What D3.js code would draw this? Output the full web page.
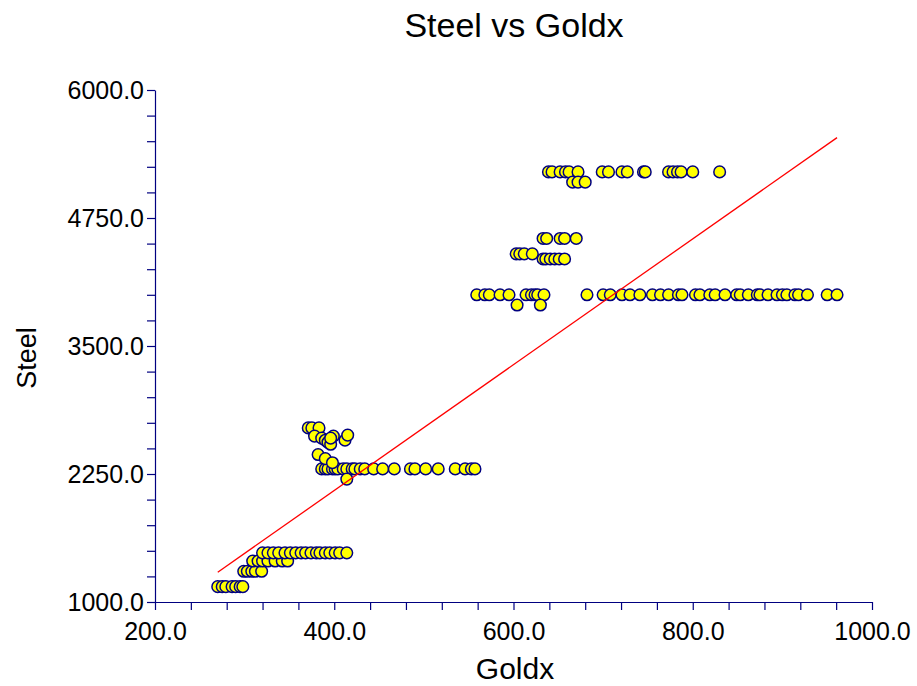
<!DOCTYPE html>
<html><head><meta charset="utf-8">
<script src="https://cdn.jsdelivr.net/npm/d3@7"></script>
<style>body{margin:0;background:#fff}svg{display:block}text{font-family:"Liberation Sans",Arial,sans-serif}</style>
</head><body>
<script>
// ---- data ----
const chartTitle = "Steel vs Goldx";
const xTitle = "Goldx";
const yTitle = "Steel";
const xTickValues = [200, 400, 600, 800, 1000];
const yTickValues = [1000, 2250, 3500, 4750, 6000];
const goldx = [
  270,275,279,286,290,295,298,
  299,303,308,312,319,
  309,315,320,326,334,342,348,
  320,326,332,338,345,351,357,363,368,374,380,384,390,395,401,406,414,
  386,390,393,398,401,404,410,414,420,423,429,434,444,454,467,485,490,502,516,535,546,553,557,
  414,
  371,375,383,378,386,390,393,396,399,396,412,415,382,390,398,
  559,568,573,585,595,614,620,624,627,634,682,700,
  604,630,
  633,637,652,657,670,
  603,607,612,621,
  633,636,641,646,651,657,
  708,721,730,741,755,764,773,784,788,803,808,819,825,836,849,853,862,872,875,884,894,900,905,914,918,928,950,961,
  639,643,652,658,662,672,699,706,721,727,745,747,773,778,783,787,800,830,
  666,672,680
];
const steel = [
  1150,1150,1150,1150,1150,1150,1150,
  1300,1300,1300,1300,1300,
  1400,1400,1400,1400,1400,1400,1400,
  1480,1480,1480,1480,1480,1480,1480,1480,1480,1480,1480,1480,1480,1480,1480,1480,1480,
  2300,2300,2300,2300,2300,2300,2300,2300,2300,2300,2300,2300,2300,2300,2300,2300,2300,2300,2300,2300,2300,2300,2300,
  2200,
  2700,2700,2700,2620,2600,2580,2560,2540,2620,2600,2580,2630,2440,2400,2360,
  4000,4000,4000,4000,4000,4000,4000,4000,4000,4000,4000,4000,
  3900,3900,
  4550,4550,4550,4550,4550,
  4400,4400,4400,4400,
  4350,4350,4350,4350,4350,4350,
  4000,4000,4000,4000,4000,4000,4000,4000,4000,4000,4000,4000,4000,4000,4000,4000,4000,4000,4000,4000,4000,4000,4000,4000,4000,4000,4000,4000,
  5200,5200,5200,5200,5200,5200,5200,5200,5200,5200,5200,5200,5200,5200,5200,5200,5200,5200,
  5100,5100,5100
];
const fitSlope = 6.142;
const fitIntercept = -367.6;

// ---- layout ----
const W = 917, H = 686;
const m = {left:155, right:45, top:90, bottom:84};
const axisColor = "#000080";
const font = '"Liberation Sans",Arial,sans-serif';

const svg = d3.select("body").append("svg").attr("width", W).attr("height", H);
const x = d3.scaleLinear().domain([200, 1000]).range([m.left, W - m.right]);
const y = d3.scaleLinear().domain([1000, 6000]).range([H - m.bottom, m.top]);

// axes
const xMinor = d3.range(200, 1000.1, 40);
const yMinor = d3.range(1000, 6000.1, 250);
const fmt = d3.format(".1f");

const gx = svg.append("g").attr("transform", `translate(0,${H - m.bottom})`)
  .call(d3.axisBottom(x).tickValues(xMinor).tickSize(8).tickSizeOuter(0)
    .tickFormat(d => xTickValues.includes(Math.round(d)) ? fmt(d) : ""));
const gy = svg.append("g").attr("transform", `translate(${m.left},0)`)
  .call(d3.axisLeft(y).tickValues(yMinor).tickSize(8).tickSizeOuter(0)
    .tickFormat(d => yTickValues.includes(Math.round(d)) ? fmt(d) : ""));
[gx, gy].forEach(g => {
  g.select(".domain").attr("stroke", axisColor).attr("stroke-width", 1.2);
  g.selectAll(".tick line").attr("stroke", axisColor).attr("stroke-width", 1.2);
  g.selectAll(".tick text").attr("fill", "#000").style("font-size", "25px")
    .style("font-family", font);
});
gx.selectAll(".tick text").attr("y", 20).attr("dy", "0.71em");
gy.selectAll(".tick text").attr("x", -11);

// points
svg.append("g").selectAll("circle").data(goldx.map((g, i) => [g, steel[i]]))
  .join("circle")
  .attr("cx", d => x(d[0])).attr("cy", d => y(d[1])).attr("r", 5.8)
  .attr("fill", "#ffff00").attr("stroke", axisColor).attr("stroke-width", 1.5);

// regression line
const [xmin, xmax] = d3.extent(goldx);
svg.append("line")
  .attr("x1", x(xmin)).attr("y1", y(fitIntercept + fitSlope * xmin))
  .attr("x2", x(xmax)).attr("y2", y(fitIntercept + fitSlope * xmax))
  .attr("stroke", "#ff0000").attr("stroke-width", 1.3);

// titles
svg.append("text").attr("x", 514).attr("y", 37).attr("text-anchor", "middle")
  .style("font-size", "34px").text(chartTitle);
svg.append("text").attr("x", 515).attr("y", 679).attr("text-anchor", "middle")
  .style("font-size", "30px").text(xTitle);
svg.append("text").attr("transform", `translate(36,358) rotate(-90)`)
  .attr("text-anchor", "middle").style("font-size", "27px").text(yTitle);
</script>
</body></html>
